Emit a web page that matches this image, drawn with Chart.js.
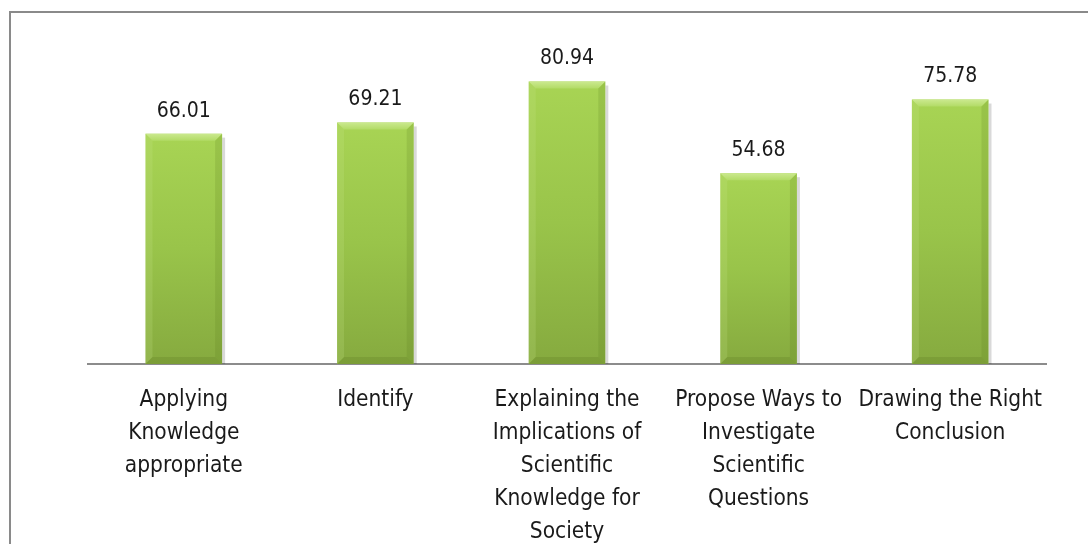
<!DOCTYPE html>
<html>
<head>
<meta charset="utf-8">
<script src="https://cdn.jsdelivr.net/npm/chart.js@4.4.0/dist/chart.umd.min.js"></script>
<style>
  html, body { margin: 0; padding: 0; background: #fff; overflow: hidden; }
  #wrap { position: relative; width: 1088px; height: 544px; overflow: hidden; }
  #frame { position: absolute; left: 9px; top: 11px; width: 1200px; height: 700px; border: 2px solid #8a8a8a; box-sizing: border-box; }
  canvas { position: absolute; left: 0; top: 0; }
</style>
</head>
<body>
<div id="wrap">
  <div id="frame"></div>
  <canvas id="myChart" width="1088" height="544"></canvas>
</div>
<script>
var categories = [
    ['Applying', 'Knowledge', 'appropriate'],
    ['Identify'],
    ['Explaining the', 'Implications of', 'Scientific', 'Knowledge for', 'Society'],
    ['Propose Ways to', 'Investigate', 'Scientific', 'Questions'],
    ['Drawing the Right', 'Conclusion']
]
var scores = [66.01, 69.21, 80.94, 54.68, 75.78]

var fontFamily = "'Liberation Sans Narrow', 'DejaVu Sans Condensed', 'Roboto', sans-serif"

// gradient per bar, from its own top down to the baseline
function barFill(context) {
    var chart = context.chart
    var area = chart.chartArea
    if (!area || !chart.scales.y) return '#98c24a'
    var top = chart.scales.y.getPixelForValue(context.raw)
    var g = chart.ctx.createLinearGradient(0, top, 0, area.bottom)
    g.addColorStop(0, '#a8d454')
    g.addColorStop(0.5, '#99c44a')
    g.addColorStop(1, '#86aa3f')
    return g
}

// bevel edges and shadow
var bevel = {
    id: 'bevel',
    beforeDatasetsDraw: function(chart) {
        var ctx = chart.ctx
        chart.getDatasetMeta(0).data.forEach(function(bar) {
            var x1 = bar.x + bar.width / 2
            ctx.save()
            ctx.fillStyle = 'rgba(0,0,0,0.15)'
            ctx.fillRect(x1, bar.y + 4, 3, bar.base - bar.y - 4)
            ctx.restore()
        })
    },
    afterDatasetsDraw: function(chart) {
        var ctx = chart.ctx
        var b = 7
        chart.getDatasetMeta(0).data.forEach(function(bar) {
            var x0 = bar.x - bar.width / 2, x1 = bar.x + bar.width / 2
            var top = bar.y, bot = bar.base
            ctx.save()
            var g = ctx.createLinearGradient(0, top, 0, top + b)
            g.addColorStop(0, '#cbe98f')
            g.addColorStop(1, '#b2db66')
            ctx.fillStyle = g
            ctx.beginPath()
            ctx.moveTo(x0, top); ctx.lineTo(x1, top); ctx.lineTo(x1 - b, top + b); ctx.lineTo(x0 + b, top + b)
            ctx.closePath(); ctx.fill()
            ctx.fillStyle = 'rgba(200,230,140,0.2)'
            ctx.beginPath()
            ctx.moveTo(x0, top); ctx.lineTo(x0 + b, top + b); ctx.lineTo(x0 + b, bot - b); ctx.lineTo(x0, bot)
            ctx.closePath(); ctx.fill()
            ctx.fillStyle = 'rgba(90,120,30,0.18)'
            ctx.beginPath()
            ctx.moveTo(x1, top); ctx.lineTo(x1 - b, top + b); ctx.lineTo(x1 - b, bot - b); ctx.lineTo(x1, bot)
            ctx.closePath(); ctx.fill()
            ctx.fillStyle = 'rgba(90,120,30,0.25)'
            ctx.beginPath()
            ctx.moveTo(x0, bot); ctx.lineTo(x0 + b, bot - b); ctx.lineTo(x1 - b, bot - b); ctx.lineTo(x1, bot)
            ctx.closePath(); ctx.fill()
            ctx.restore()
        })
    }
}

// value labels above the bars
var valueLabels = {
    id: 'valueLabels',
    afterDatasetsDraw: function(chart) {
        var ctx = chart.ctx
        var meta = chart.getDatasetMeta(0)
        ctx.save()
        ctx.font = '21px ' + fontFamily
        ctx.fillStyle = '#1a1a1a'
        ctx.textAlign = 'center'
        ctx.textBaseline = 'bottom'
        meta.data.forEach(function(bar, i) {
            ctx.fillText(scores[i].toFixed(2), bar.x, bar.y - 12)
        })
        ctx.restore()
    }
}

var ctx = document.getElementById('myChart').getContext('2d')

var myChart = new Chart(ctx, {
    type: 'bar',
    data: {
        labels: categories,
        datasets: [{
            data: scores,
            backgroundColor: barFill,
            borderWidth: 0,
            barPercentage: 0.8,
            categoryPercentage: 0.5
        }]
    },
    options: {
        responsive: false,
        animation: false,
        layout: {
            padding: { left: 88, right: 42, top: 15, bottom: 0 }
        },
        plugins: {
            legend: { display: false },
            tooltip: { enabled: false }
        },
        scales: {
            x: {
                grid: { display: false, drawTicks: false },
                border: { display: true, color: '#8c8c8c', width: 2 },
                ticks: {
                    color: '#1a1a1a',
                    padding: 20,
                    maxRotation: 0,
                    autoSkip: false,
                    font: { family: fontFamily, size: 22.5, lineHeight: '33px' }
                },
                afterFit: function(scale) {
                    scale.height = 180
                }
            },
            y: {
                display: false,
                min: 0,
                max: 100
            }
        }
    },
    plugins: [bevel, valueLabels]
})
</script>
</body>
</html>
